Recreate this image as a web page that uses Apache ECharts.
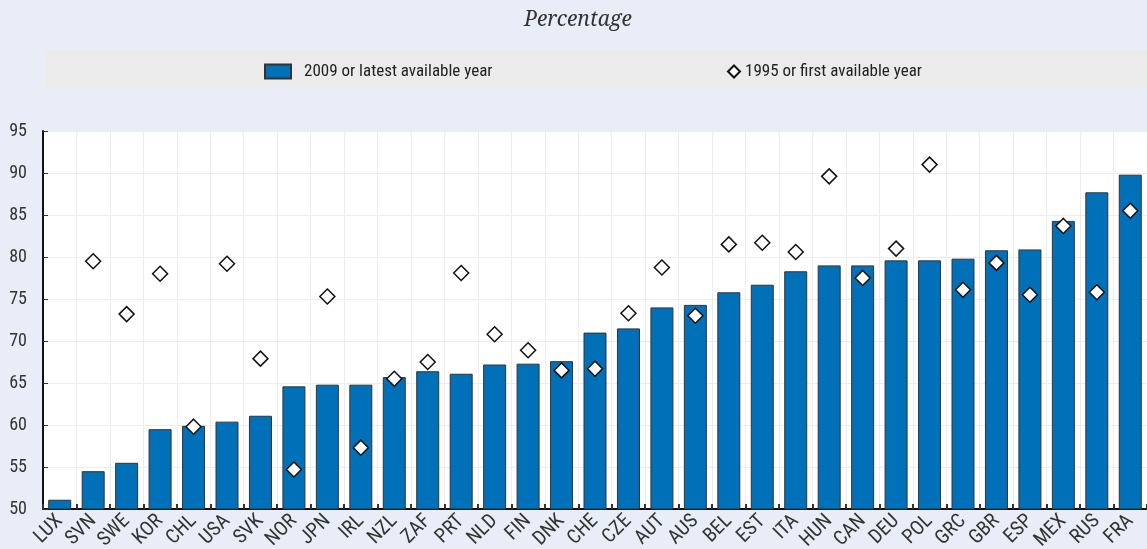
<!DOCTYPE html>
<html>
<head>
<meta charset="utf-8">
<script src="https://cdn.jsdelivr.net/npm/echarts@6/dist/echarts.min.js"></script>
<style>
html,body{margin:0;padding:0;background:#E9EDF7;}
#chart{width:1147px;height:549px;}
</style>
</head>
<body>
<div id="chart"></div>
<script>
const categories = ['LUX','SVN','SWE','KOR','CHL','USA','SVK','NOR','JPN','IRL','NZL','ZAF','PRT','NLD','FIN','DNK','CHE','CZE','AUT','AUS','BEL','EST','ITA','HUN','CAN','DEU','POL','GRC','GBR','ESP','MEX','RUS','FRA'];
const latest = [51.1,54.5,55.5,59.5,59.9,60.4,61.1,64.6,64.8,64.8,65.7,66.4,66.1,67.2,67.3,67.6,71.0,71.5,74.0,74.3,75.8,76.7,78.3,79.0,79.0,79.6,79.6,79.8,80.8,80.9,84.3,87.7,89.8];
const first = [null,79.5,73.2,78.0,59.8,79.2,67.9,54.7,75.3,57.3,65.5,67.5,78.1,70.8,68.9,66.5,66.7,73.3,78.75,73.0,81.5,81.7,80.6,89.6,77.5,81.0,91.0,76.1,79.3,75.5,83.7,75.8,85.5];
const yTicks = {min:50, max:95, interval:5};
const seriesNames = ['2009 or latest available year','1995 or first available year'];

const FONT = 'Roboto Condensed, Liberation Sans, sans-serif';
const chart = echarts.init(document.getElementById('chart'), null, {renderer:'canvas'});
chart.setOption({
  backgroundColor:'#E9EDF7',
  animation:false,
  title:{
    text:'Percentage', left:519, top:5,
    textStyle:{fontFamily:'Noto Serif, serif', fontStyle:'italic', fontWeight:'normal', fontSize:21, color:'#333'}
  },
  graphic:[{type:'rect', left:45, top:50, shape:{width:1102, height:39}, style:{fill:'#EBEBEB'}, z:-1}],
  legend:[
    {data:[{name:seriesNames[0], icon:'rect'}], left:264, top:63, padding:0, itemWidth:26, itemHeight:14,
     textStyle:{fontFamily:FONT, fontSize:17, color:'#222', padding:[0,0,0,8]}},
    {data:[{name:seriesNames[1], icon:'diamond'}], left:727, top:63, padding:0, itemWidth:12, itemHeight:12,
     textStyle:{fontFamily:FONT, fontSize:17, color:'#222', padding:[0,0,0,0]}}
  ],
  grid:{left:43, right:0, top:131, bottom:40, show:true, backgroundColor:'#FFFFFF', borderWidth:0,
        containLabel:false, outerBoundsMode:'none'},
  xAxis:{
    type:'category', data:categories, boundaryGap:true,
    axisLine:{lineStyle:{color:'#111', width:2}},
    axisTick:{show:true, inside:true, length:5, lineStyle:{color:'#333', width:2}},
    axisLabel:{rotate:45, interval:0, fontFamily:FONT, fontSize:20, color:'#333', margin:9},
    splitLine:{show:true, interval:0, lineStyle:{color:'#EDEDED', width:1}}
  },
  yAxis:{
    type:'value', min:yTicks.min, max:yTicks.max, interval:yTicks.interval,
    axisLine:{show:true, lineStyle:{color:'#111', width:2}},
    axisTick:{show:true, inside:true, length:5, lineStyle:{color:'#333'}},
    axisLabel:{fontFamily:FONT, fontSize:18, color:'#333', margin:16},
    splitLine:{show:true, lineStyle:{color:'#EDEDED', width:1}}
  },
  series:[
    {name:seriesNames[0], type:'bar', data:latest, barWidth:23,
     itemStyle:{color:'#0070B8', borderColor:'#333', borderWidth:1}},
    {name:seriesNames[1], type:'scatter', data:first, symbol:'diamond', symbolSize:[15,15],
     itemStyle:{color:'#FFFFFF', borderColor:'#111', borderWidth:1.5, opacity:1}, z:5}
  ]
});
</script>
</body>
</html>
